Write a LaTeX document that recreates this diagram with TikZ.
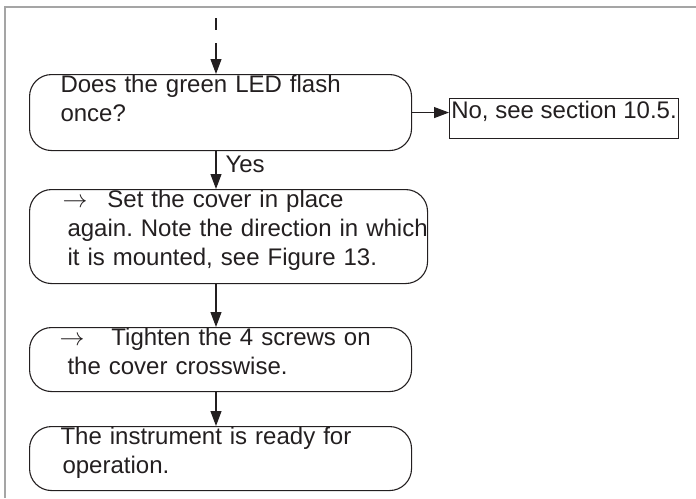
\documentclass[tikz,border=0pt]{standalone}
\usepackage{fontspec}
\setmainfont{Liberation Sans}
\usepackage{xcolor}
\usepackage{tikz}
\usetikzlibrary{arrows.meta,positioning,calc}
\definecolor{inkgray}{RGB}{35,31,32}
\definecolor{framegray}{RGB}{165,165,165}

\begin{document}
\begin{tikzpicture}[
  x=1pt,y=-1pt,
  font=\fontsize{24}{29}\selectfont\frenchspacing,
  stepbox/.style={draw=inkgray,line width=1.1pt,rounded corners=22pt,inner sep=0pt,
    text height=18pt,align=left,anchor=north west,text width=382pt,text=inkgray},
  infobox/.style={draw=inkgray,line width=1.1pt,inner sep=0pt,text height=20pt,
    text depth=20pt,minimum width=229pt,anchor=north west,text=inkgray},
  arc/.style={-{Triangle[length=15pt,width=11pt]},line width=1.1pt,draw=inkgray},
  lab/.style={text=inkgray,inner sep=0pt}
]
\useasboundingbox (0,0) rectangle (696,498);
\draw[framegray,line width=1.3pt] (5,498) -- (5,7) -- (696,7);

\coordinate (start) at (216,18);
\node[stepbox,text depth=58pt] (q1) at (29,74)
  {\hspace*{31pt}Does the green LED flash\\\hspace*{31pt}once?};
\node[infobox] (no) at (449,98) {No, see section 10.5.};
\node[stepbox,text width=398pt,text depth=76pt] (q2) at (29,189)
  {\hspace*{33pt}$\rightarrow$\hspace{20pt}Set the cover in place\\
   \hspace*{38pt}\mbox{again. Note the direction in which}\\
   \hspace*{38pt}it is mounted, see Figure 13.};
\node[stepbox,text depth=46pt] (q3) at (29,327)
  {\hspace*{30pt}$\rightarrow$\hspace{27pt}Tighten the 4 screws on\\
   \hspace*{38pt}the cover crosswise.};
\node[stepbox,text depth=46pt] (q4) at (29,426)
  {\hspace*{31pt}The instrument is ready for\\\hspace*{33pt}operation.};

\draw[arc,dash pattern=on 12pt off 13pt on 60pt] (start) -- (start |- q1.north);
\draw[arc] (q1.east) -- (q1.east -| no.west);
\draw[arc] (q1.south -| start) -- node[lab,right=9pt,pos=0.35] {Yes} (q2.north -| start);
\draw[arc] (q2.south -| start) -- (q3.north -| start);
\draw[arc] (q3.south -| start) -- (q4.north -| start);
\end{tikzpicture}
\end{document}
